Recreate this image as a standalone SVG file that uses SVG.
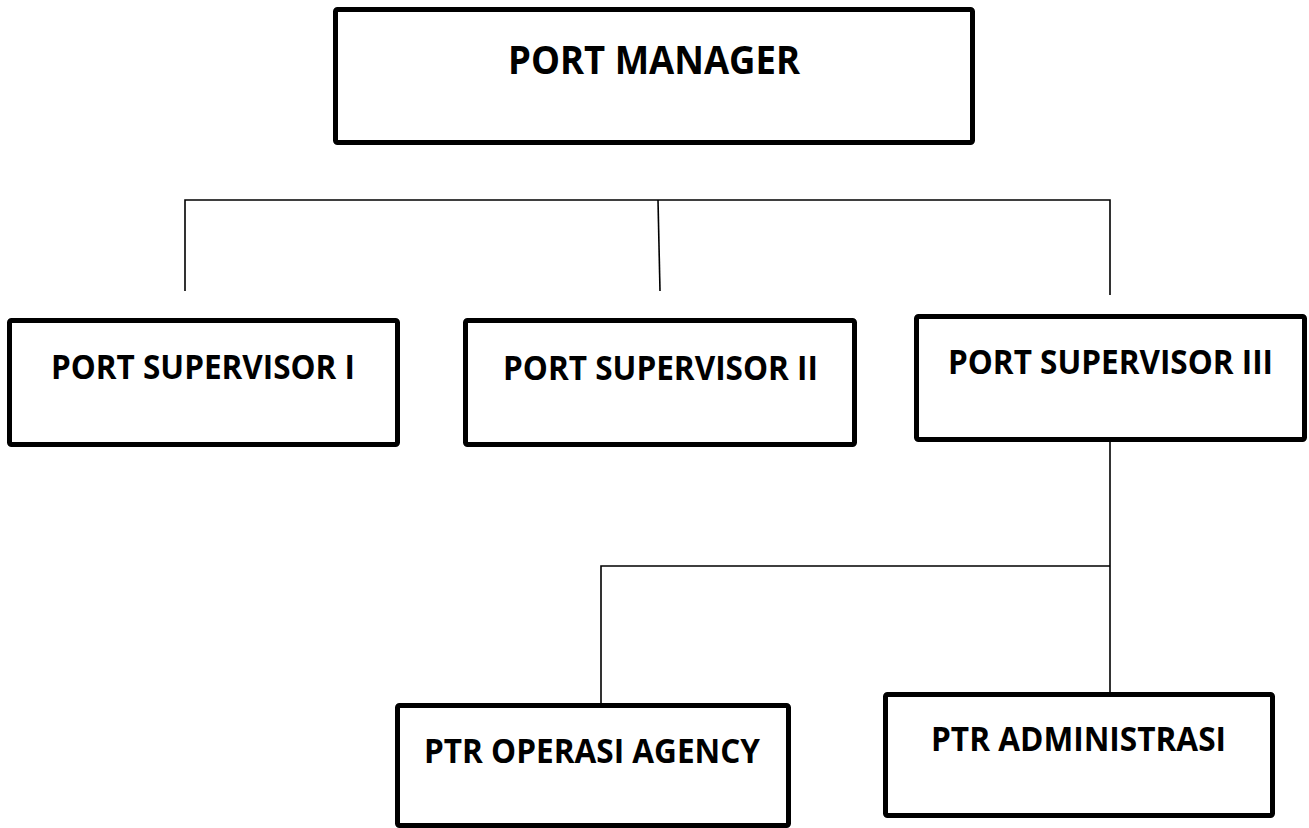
<svg xmlns="http://www.w3.org/2000/svg" width="1309" height="828" viewBox="0 0 1309 828">
<style>
.box{fill:#fff;stroke:#000;stroke-width:5;stroke-linejoin:round}
.lbl{font-family:"Open Sans","Liberation Sans",sans-serif;font-weight:bold;font-size:34px;fill:#000;text-anchor:middle}
.big{font-size:39px}
.con{fill:none;stroke:#000;stroke-width:1.6}
</style>
<rect width="1309" height="828" fill="#fff"/>
<g id="connectors">
<path class="con" d="M185 291 V200 H1110 V295"/>
<path class="con" d="M658 200 L660 291"/>
<path class="con" d="M1110 442 V692"/>
<path class="con" d="M1110 566 H601 V703"/>
</g>
<g id="port-manager">
<rect class="box" x="335.5" y="9.5" width="637" height="133" rx="2"/>
<text class="lbl big" x="654" y="74" textLength="292" lengthAdjust="spacingAndGlyphs">PORT MANAGER</text>
</g>
<g id="port-supervisor-1">
<rect class="box" x="9.5" y="320.5" width="388" height="124" rx="2"/>
<text class="lbl" x="203" y="379" textLength="304" lengthAdjust="spacingAndGlyphs">PORT SUPERVISOR I</text>
</g>
<g id="port-supervisor-2">
<rect class="box" x="465.5" y="320.5" width="389" height="124" rx="2"/>
<text class="lbl" x="660.5" y="380" textLength="315" lengthAdjust="spacingAndGlyphs">PORT SUPERVISOR II</text>
</g>
<g id="port-supervisor-3">
<rect class="box" x="916.5" y="316.5" width="388" height="123" rx="2"/>
<text class="lbl" x="1110.5" y="374" textLength="325" lengthAdjust="spacingAndGlyphs">PORT SUPERVISOR III</text>
</g>
<g id="ptr-operasi-agency">
<rect class="box" x="397.5" y="705.5" width="391" height="120" rx="2"/>
<text class="lbl" x="592" y="763" textLength="336" lengthAdjust="spacingAndGlyphs">PTR OPERASI AGENCY</text>
</g>
<g id="ptr-administrasi">
<rect class="box" x="885.5" y="694.5" width="387" height="121" rx="2"/>
<text class="lbl" x="1078.5" y="751" textLength="295" lengthAdjust="spacingAndGlyphs">PTR ADMINISTRASI</text>
</g>
</svg>
